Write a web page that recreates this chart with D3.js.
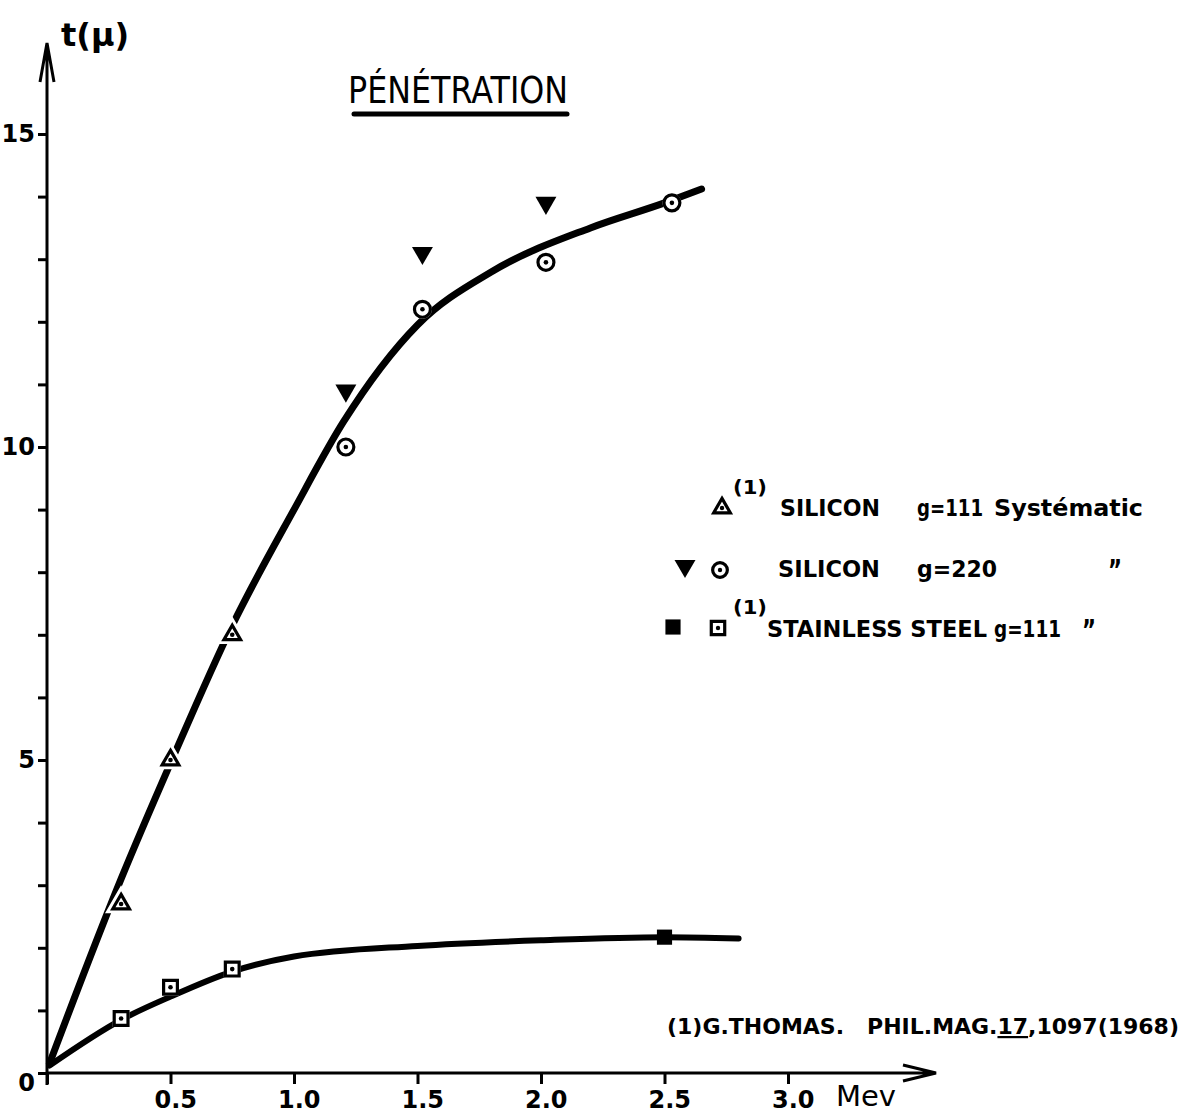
<!DOCTYPE html>
<html>
<head>
<meta charset="utf-8">
<script src="https://cdn.jsdelivr.net/npm/d3@7"></script>
<style>
  html, body { margin: 0; padding: 0; background: #fff; overflow: hidden; }
  svg { display: block; font-family: 'DejaVu Sans', sans-serif; }
</style>
</head>
<body>
<div id="chart-area"></div>
<script>
// values (energy in MeV, thickness in microns)
const energyTicks = [0, 0.5, 1.0, 1.5, 2.0, 2.5, 3.0];
const thicknessTicks = [0, 1, 2, 3, 4, 5, 6, 7, 8, 9, 10, 11, 12, 13, 14, 15];
const thicknessLabels = [0, 5, 10, 15];

// fitted curves
const siliconCurve = [[0.01, 0.15], [0.3, 3.1], [0.5, 4.95], [0.75, 7.15], [1.0, 9.0], [1.2, 10.4],
  [1.5, 11.95], [1.8, 12.8], [2.2, 13.5], [2.5, 13.9], [2.65, 14.12]];
const steelCurve = [[0.01, 0.12], [0.3, 0.85], [0.5, 1.22], [0.75, 1.62], [1.0, 1.86], [1.5, 2.03],
  [2.0, 2.12], [2.5, 2.17], [2.8, 2.15]];

// measured points
const silicon111 = [[0.3, 2.7], [0.5, 5.0], [0.75, 7.0]];          // open triangles
const silicon220Open = [[1.21, 10.0], [1.52, 12.2], [2.02, 12.95], [2.53, 13.9]]; // dotted circles
const silicon220Filled = [[1.21, 10.9], [1.52, 13.1], [2.02, 13.9]];             // filled triangles
const steelOpen = [[0.3, 0.87], [0.5, 1.37], [0.75, 1.66]];        // dotted squares
const steelFilled = [[2.5, 2.17]];                                   // filled square

let width = 1185;
let height = 1118;

let chart = d3
  .select('#chart-area')
  .append('svg')
  .attr('width', width)
  .attr('height', height);

chart.append('rect').attr('width', width).attr('height', height).attr('fill', '#fff');

let xScale = d3.scaleLinear().domain([0, 3]).range([47, 788]);
let yScale = d3.scaleLinear().domain([0, 15]).range([1073, 134]);

//axes
let xAxis = d3
  .axisBottom(xScale)
  .tickValues(energyTicks)
  .tickSize(11)
  .tickPadding(7)
  .tickFormat((d) => (d === 0 ? '' : d.toFixed(1)));
let yAxis = d3
  .axisLeft(yScale)
  .tickValues(thicknessTicks)
  .tickSize(9)
  .tickPadding(3)
  .tickFormat((d) => (thicknessLabels.includes(d) ? d : ''));

let gx = chart.append('g').attr('transform', `translate(0, ${yScale(0)})`).call(xAxis);
let gy = chart.append('g').attr('transform', `translate(${xScale(0)}, 0)`).call(yAxis);
[gx, gy].forEach((g) => {
  g.attr('font-size', 24).attr('font-family', null).attr('font-weight', 'bold');
  g.select('.domain').remove();
  g.selectAll('.tick line').attr('stroke', '#000').attr('stroke-width', 3);
  g.selectAll('.tick text').attr('fill', '#000');
});
gx.selectAll('.tick text').attr('dx', '0.2em');
gy.selectAll('.tick text').filter((d) => d === 0).attr('dy', '0.72em');

//axis lines with arrows
chart
  .append('path')
  .attr('d', `M${xScale(0)},${yScale(0) + 12} L${xScale(0)},43 M${xScale(0) - 7},82 L${xScale(0)},43 L${xScale(0) + 7},82`)
  .attr('fill', 'none')
  .attr('stroke', '#000')
  .attr('stroke-width', 3);
chart
  .append('path')
  .attr('d', `M${xScale(0)},${yScale(0)} L936,${yScale(0)} M903,${yScale(0) - 8} L936,${yScale(0)} L903,${yScale(0) + 8}`)
  .attr('fill', 'none')
  .attr('stroke', '#000')
  .attr('stroke-width', 3);

//axis titles
chart.append('text').attr('x', 61).attr('y', 46).style('font-size', '32px').style('font-weight', 'bold').text('t(μ)');
chart.append('text').attr('x', 836).attr('y', 1106).style('font-size', '29px').text('Mev');

//title
chart
  .append('text')
  .attr('x', 348)
  .attr('y', 103)
  .attr('textLength', 220)
  .attr('lengthAdjust', 'spacingAndGlyphs')
  .style('font-size', '37px')
  .text('PÉNÉTRATION');
chart
  .append('line')
  .attr('x1', 354)
  .attr('x2', 567)
  .attr('y1', 114)
  .attr('y2', 114)
  .attr('stroke', '#000')
  .attr('stroke-width', 5)
  .attr('stroke-linecap', 'round');

//curves
let line = d3
  .line()
  .x((d) => xScale(d[0]))
  .y((d) => yScale(d[1]))
  .curve(d3.curveMonotoneX);
chart.append('path').datum(siliconCurve).attr('d', line).attr('fill', 'none').attr('stroke', '#000').attr('stroke-width', 7).attr('stroke-linecap', 'round');
chart.append('path').datum(steelCurve).attr('d', line).attr('fill', 'none').attr('stroke', '#000').attr('stroke-width', 6).attr('stroke-linecap', 'round');

//markers
function openMarker(g, data, type, size, rotate, halo) {
  let sym = d3.symbol().type(type).size(size);
  let sel = g
    .selectAll(null)
    .data(data)
    .enter()
    .append('g')
    .attr('transform', (d) => `translate(${xScale(d[0])}, ${yScale(d[1])}) rotate(${rotate})`);
  sel.append('path').attr('d', sym).attr('fill', '#fff').attr('stroke', '#fff').attr('stroke-width', halo);
  sel.append('path').attr('d', sym).attr('fill', '#fff').attr('stroke', '#000').attr('stroke-width', 3.2);
  sel.append('circle').attr('r', 2.3).attr('fill', '#000');
}
function filledMarker(g, data, type, size, rotate) {
  g.selectAll(null)
    .data(data)
    .enter()
    .append('path')
    .attr('d', d3.symbol().type(type).size(size))
    .attr('transform', (d) => `translate(${xScale(d[0])}, ${yScale(d[1])}) rotate(${rotate})`)
    .attr('fill', '#000');
}
let marks = chart.append('g');
openMarker(marks, silicon111, d3.symbolTriangle, 120, 0, 9);
openMarker(marks, silicon220Open, d3.symbolCircle, 200, 0, 3);
openMarker(marks, steelOpen, d3.symbolSquare, 190, 0, 3);
filledMarker(marks, silicon220Filled, d3.symbolTriangle, 190, 180);
filledMarker(marks, steelFilled, d3.symbolSquare, 230, 0);

//legend
let legend = chart.append('g').style('font-weight', 'bold');
let legendSym = [
  { x: 722, y: 508, type: d3.symbolTriangle, size: 120, rot: 0, open: true },
  { x: 685, y: 566, type: d3.symbolTriangle, size: 190, rot: 180, open: false },
  { x: 720, y: 570, type: d3.symbolCircle, size: 170, rot: 0, open: true },
  { x: 673, y: 627, type: d3.symbolSquare, size: 230, rot: 0, open: false },
  { x: 718, y: 628, type: d3.symbolSquare, size: 180, rot: 0, open: true },
];
legendSym.forEach((s) => {
  let g = legend.append('g').attr('transform', `translate(${s.x}, ${s.y}) rotate(${s.rot})`);
  g.append('path')
    .attr('d', d3.symbol().type(s.type).size(s.size))
    .attr('fill', s.open ? '#fff' : '#000')
    .attr('stroke', s.open ? '#000' : 'none')
    .attr('stroke-width', 3.2);
  if (s.open) g.append('circle').attr('r', 2.2).attr('fill', '#000');
});
let legendText = [
  { x: 733, y: 494, w: 34, fs: 20, t: '(1)' },
  { x: 780, y: 516, w: 100, fs: 23, t: 'SILICON' },
  { x: 917, y: 516, w: 66, fs: 23, t: 'g=111' },
  { x: 994, y: 516, w: 149, fs: 23, t: 'Systématic' },
  { x: 778, y: 577, w: 102, fs: 23, t: 'SILICON' },
  { x: 917, y: 577, w: 80, fs: 23, t: 'g=220' },
  { x: 1108, y: 580, w: 14, fs: 28, t: '”' },
  { x: 733, y: 614, w: 34, fs: 20, t: '(1)' },
  { x: 767, y: 637, w: 220, fs: 23, t: 'STAINLESS STEEL' },
  { x: 994, y: 637, w: 67, fs: 23, t: 'g=111' },
  { x: 1082, y: 640, w: 14, fs: 28, t: '”' },
];
legend
  .selectAll('text')
  .data(legendText)
  .enter()
  .append('text')
  .attr('x', (d) => d.x)
  .attr('y', (d) => d.y)
  .attr('textLength', (d) => d.w)
  .attr('lengthAdjust', 'spacingAndGlyphs')
  .style('font-size', (d) => d.fs + 'px')
  .text((d) => d.t);

//reference note
let note = chart
  .append('text')
  .attr('x', 667)
  .attr('y', 1034)
  .attr('textLength', 512)
  .attr('lengthAdjust', 'spacingAndGlyphs')
  .style('font-size', '22px')
  .style('font-weight', 'bold')
  .attr('xml:space', 'preserve');
note.append('tspan').text('(1)G.THOMAS.   PHIL.MAG.');
note.append('tspan').style('text-decoration', 'underline').text('17');
note.append('tspan').text(',1097(1968)');
</script>
</body>
</html>
